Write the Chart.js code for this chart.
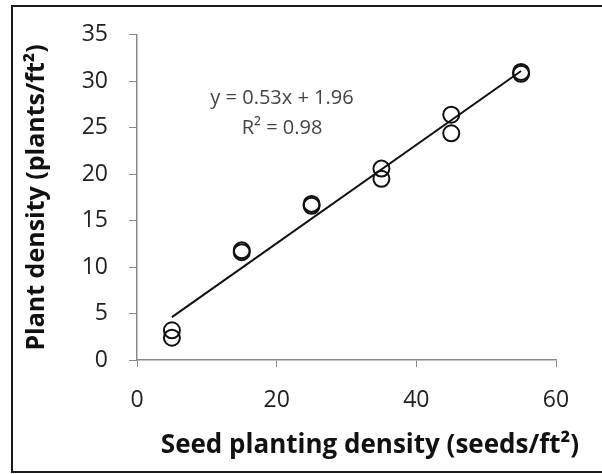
<!DOCTYPE html>
<html>
<head>
<meta charset="utf-8">
<script src="https://cdn.jsdelivr.net/npm/chart.js@4"></script>
<style>
  html, body { margin: 0; padding: 0; background: #fff; }
  #wrap { width: 602px; height: 474px; }
</style>
</head>
<body>
<div id="wrap"><canvas id="myChart" width="602" height="474"></canvas></div>
<script>
'use strict';

// datos
const seedDensity = [5, 5, 15, 15, 25, 25, 35, 35, 45, 45, 55, 55];
const plantDensity = [3.2, 2.4, 11.6, 11.8, 16.6, 16.8, 20.6, 19.5, 26.4, 24.4, 30.8, 31.0];
const trendX = [5, 55];
const trendY = [4.61, 31.11];
const xTicks = [0, 20, 40, 60];
const yTicks = [0, 5, 10, 15, 20, 25, 30, 35];
const equationText = ['y = 0.53x + 1.96', 'R\u00b2 = 0.98'];
const xTitle = 'Seed planting density (seeds/ft\u00b2)';
const yTitle = 'Plant density (plants/ft\u00b2)';

const fontFamily = "'Open Sans', sans-serif";

let puntos = seedDensity.map((x, i) => ({ x: x, y: plantDensity[i] }));
let linea = trendX.map((x, i) => ({ x: x, y: trendY[i] }));

// marco, titulos y ecuacion
const extras = {
    id: 'extras',
    beforeDraw(chart) {
        const c = chart.ctx;
        c.save();
        c.fillStyle = '#fff';
        c.fillRect(0, 0, chart.width, chart.height);
        c.strokeStyle = '#1a1a1a';
        c.lineWidth = 2;
        c.strokeRect(12, 6, 600, 466);
        c.restore();
    },
    afterDraw(chart) {
        const c = chart.ctx;
        const ys = chart.scales.y;
        c.save();
        c.fillStyle = '#111';
        c.textAlign = 'center';
        c.textBaseline = 'middle';
        c.font = "bold 26px " + fontFamily;
        c.fillText(xTitle, 370, 446);
        c.font = "bold 25px " + fontFamily;
        c.translate(37, (ys.top + ys.bottom) / 2);
        c.rotate(-Math.PI / 2);
        c.fillText(yTitle, 0, 0);
        c.restore();

        c.save();
        c.fillStyle = '#444';
        c.font = "20px " + fontFamily;
        c.textAlign = 'center';
        c.textBaseline = 'middle';
        c.fillText(equationText[0], 282, 98);
        c.fillText(equationText[1], 282, 128);
        c.restore();
    }
};

let ctx = document.getElementById('myChart').getContext('2d');
let myChart = new Chart(ctx, {
    type: 'scatter',
    data: {
        datasets: [{
            label: 'datos',
            data: puntos,
            pointStyle: 'circle',
            pointRadius: 8,
            pointBorderWidth: 2,
            borderColor: '#111',
            backgroundColor: 'rgba(0,0,0,0)',
            order: 1
        }, {
            type: 'line',
            label: 'tendencia',
            data: linea,
            borderColor: '#111',
            borderWidth: 2,
            pointRadius: 0,
            fill: false,
            order: 2
        }]
    },
    options: {
        responsive: false,
        animation: false,
        layout: { padding: { top: 24, right: 46, bottom: 0, left: 0 } },
        plugins: {
            legend: { display: false },
            tooltip: { enabled: false }
        },
        scales: {
            x: {
                type: 'linear',
                min: 0,
                max: 60,
                afterBuildTicks: (axis) => { axis.ticks = xTicks.map(v => ({ value: v })); },
                afterFit: (axis) => { axis.height = 114; },
                grid: { drawOnChartArea: false, drawTicks: true, tickLength: 7, color: '#888' },
                border: { color: '#888', width: 1.5 },
                ticks: { color: '#222', font: { family: fontFamily, size: 23 }, padding: 20 }
            },
            y: {
                type: 'linear',
                min: 0,
                max: 35,
                afterBuildTicks: (axis) => { axis.ticks = yTicks.map(v => ({ value: v })); },
                afterFit: (axis) => { axis.width = 137; },
                grid: { drawOnChartArea: false, drawTicks: true, tickLength: 8, color: '#888' },
                border: { color: '#888', width: 1.5 },
                ticks: { color: '#222', font: { family: fontFamily, size: 23 }, padding: 21 }
            }
        }
    },
    plugins: [extras]
});
</script>
</body>
</html>
